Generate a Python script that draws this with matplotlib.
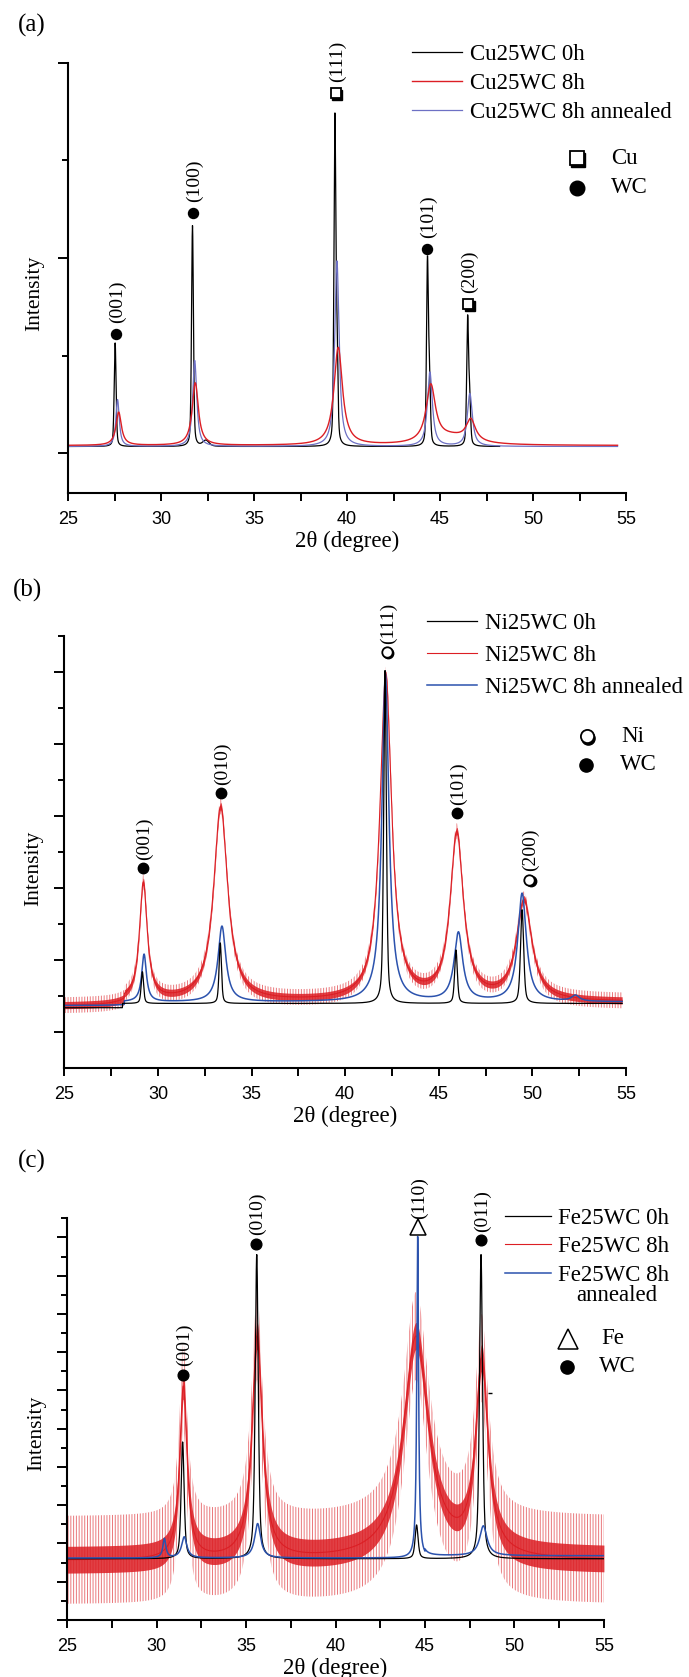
import numpy as np
import matplotlib
matplotlib.use("Agg")
import matplotlib.pyplot as plt
from matplotlib.transforms import offset_copy

plt.rcParams['font.family'] = ['Liberation Serif', 'DejaVu Serif']
plt.rcParams['hatch.linewidth'] = 0.7

W, H = 689, 1677
RED = '#dc1e24'
BLUE_A = '#6d70c4'
BLUE = '#2b52ad'

# ---------------- data ----------------
# panel (a) Cu25WC : peak position (deg), height above background, FWHM (deg)
a_black_pos = [27.52, 31.68, 32.40, 39.34, 39.45, 44.32, 44.43, 46.48, 46.59]
a_black_h = [0.53, 1.13, 0.03, 1.64, 0.45, 0.93, 0.30, 0.64, 0.22]
a_black_w = [0.12, 0.12, 0.40, 0.12, 0.12, 0.12, 0.12, 0.12, 0.12]
a_red_pos = [27.71, 31.83, 39.52, 44.50, 46.65, 45.60]
a_red_h = [0.17, 0.32, 0.50, 0.29, 0.11, 0.04]
a_red_w = [0.35, 0.40, 0.55, 0.60, 0.60, 2.50]
a_blue_pos = [27.65, 31.80, 39.45, 44.45, 46.60]
a_blue_h = [0.24, 0.44, 0.95, 0.38, 0.27]
a_blue_w = [0.22, 0.26, 0.28, 0.32, 0.32]
a_marks = [(27.56, 0.611, 'WC', '(001)'), (31.72, 1.229, 'WC', '(100)'),
           (39.39, 1.843, 'Cu', '(111)'), (44.30, 1.045, 'WC', '(101)'),
           (46.50, 0.763, 'Cu', '(200)')]

# panel (b) Ni25WC
b_black_pos = [29.17, 33.33, 42.13, 45.92, 49.45]
b_black_h = [0.44, 0.84, 4.62, 0.74, 1.30]
b_black_w = [0.15, 0.15, 0.17, 0.17, 0.20]
b_blue_pos = [29.26, 33.42, 42.15, 46.05, 49.45, 52.30]
b_blue_h = [0.66, 1.05, 4.55, 0.95, 1.50, 0.08]
b_blue_w = [0.30, 0.50, 0.45, 0.55, 0.55, 0.50]
b_red_pos = [29.22, 33.35, 42.17, 45.96, 49.55]
b_red_h = [1.63, 2.70, 4.50, 2.30, 1.38]
b_red_w = [0.50, 0.90, 0.75, 0.85, 1.00]
b_marks = [(29.22, 2.28, 'WC', '(001)'), (33.35, 3.32, 'WC', '(010)'),
           (42.22, 5.28, 'Ni', '(111)'), (45.96, 3.04, 'WC', '(101)'),
           (49.84, 2.12, 'Ni', '(200)')]

# panel (c) Fe25WC
c_black_pos = [31.46, 35.60, 44.53, 48.13]
c_black_h = [3.05, 7.95, 0.88, 7.95]
c_black_w = [0.20, 0.20, 0.20, 0.20]
c_blue_pos = [30.44, 31.55, 35.65, 44.59, 48.26]
c_blue_h = [0.50, 0.55, 0.90, 8.40, 0.78]
c_blue_w = [0.20, 0.35, 0.40, 0.12, 0.50]
c_red_pos = [31.50, 35.62, 44.50, 48.17]
c_red_h = [4.50, 5.80, 5.80, 5.00]
c_red_w = [0.50, 0.70, 1.70, 0.84]
c_marks = [(31.50, 6.41, 'WC', '(001)'), (35.56, 9.84, 'WC', '(010)'),
           (44.59, 10.27, 'Fe', '(110)'), (48.11, 9.92, 'WC', '(011)')]

# background levels: (edges, levels) step values
a_base = {'black': ([], [0.035]), 'red': ([], [0.04]), 'blue': ([], [0.035])}
b_base = {'black': ([28.1], [0.34, 0.40]), 'red': ([28.2], [0.36, 0.42]),
          'blue': ([28.2], [0.37, 0.42])}
c_base = {'black': ([], [1.60]), 'red': ([], [1.55]), 'blue': ([45.0], [1.62, 1.68])}

# noise envelope half widths (dense core, sparse spikes)
b_red_noise = (0.05, 0.11)
c_red_noise = (0.35, 1.15)


def background(x, edges, levels):
    return np.asarray(levels)[np.searchsorted(edges, x)]


def pattern(x, base, pos, height, fwhm, eta):
    y = background(x, *base).astype(float)
    for c, h, w in zip(pos, height, fwhm):
        lor = 1.0 / (1.0 + ((x - c) / (w / 2)) ** 2)
        gau = np.exp(-4 * np.log(2) * ((x - c) / w) ** 2)
        y = y + h * (eta * lor + (1 - eta) * gau)
    return y


fig = plt.figure(figsize=(W / 100, H / 100), dpi=100)


def px_ax(l, r, t, b):
    return fig.add_axes([l / W, 1 - b / H, (r - l) / W, (b - t) / H])


def style(ax, ylim, ymaj, ymin):
    ax.set_xlim(25, 55)
    ax.set_ylim(*ylim)
    for s in ['top', 'right']:
        ax.spines[s].set_visible(False)
    for s in ['left', 'bottom']:
        ax.spines[s].set_linewidth(1.5)
    ax.set_xticks(np.arange(25, 56, 5))
    ax.set_xticks(np.arange(27.5, 55, 5), minor=True)
    ax.set_yticks(ymaj)
    ax.set_yticks(ymin, minor=True)
    ax.tick_params(axis='x', which='both', direction='out', length=6, width=1.4,
                   labelsize=13, pad=7, labelfontfamily='Liberation Sans')
    ax.tick_params(axis='y', which='major', direction='out', length=7, width=1.4,
                   labelleft=False)
    ax.tick_params(axis='y', which='minor', direction='out', length=4.5, width=1.4)
    ax.set_xlabel('2θ (degree)', fontsize=16.5, labelpad=2)


def shadow_marker(ax, x, y, marker, ms, trans=None):
    trans = ax.transData if trans is None else trans
    sh = offset_copy(trans, fig=fig, x=1.6, y=-1.6, units='dots')
    ax.plot([x], [y], marker=marker, ms=ms, color='black', transform=sh,
            clip_on=False, zorder=9)
    ax.plot([x], [y], marker=marker, ms=ms, mfc='white', mec='black', mew=1.3,
            transform=trans, clip_on=False, zorder=10)


def phase_marker(ax, x, y, phase, ms, trans=None):
    trans = ax.transData if trans is None else trans
    if phase == 'WC':
        ax.plot([x], [y], 'o', ms=ms, color='black', transform=trans,
                clip_on=False, zorder=10)
    elif phase == 'Cu':
        shadow_marker(ax, x, y, 's', ms * 0.95, trans)
    elif phase == 'Ni':
        shadow_marker(ax, x, y, 'o', ms, trans)
    elif phase == 'Fe':
        ax.plot([x], [y], '^', ms=ms * 1.45, mfc='white', mec='black', mew=1.1,
                transform=trans, clip_on=False, zorder=10)


def annotate(ax, marks, ms, dy):
    for x, y, ph, lab in marks:
        phase_marker(ax, x, y, ph, ms)
        ax.annotate(lab, xy=(x, y), xytext=(1, dy), textcoords='offset points',
                    rotation=90, ha='center', va='bottom', fontsize=14,
                    annotation_clip=False)


def fig_text(x, y, s, **kw):
    fig.text(x / W, 1 - y / H, s, **kw)


def symbol_key(ax, rows, ms):
    ft = fig.transFigure
    for xs, ys, ph, xt, lab in rows:
        phase_marker(ax, xs / W, 1 - ys / H, ph, ms, ft)
        fig_text(xt, ys, lab, fontsize=16.5, ha='left', va='center')


def draw_noisy(ax, x, y, noise, color):
    core, spike = noise
    ax.fill_between(x, y - spike, y + spike, facecolor='none', edgecolor=color,
                    hatch='||||||', lw=0, alpha=0.6)
    ax.fill_between(x, y - core, y + core, color=color, alpha=0.85, lw=0)
    return ax.plot(x, y, color=color, lw=0.8)[0]


def key(ax, handles, labels, x0, y0, spacing, hl=2.2):
    ax.legend(handles, labels, loc='upper left', bbox_to_anchor=(x0 / W, 1 - y0 / H),
              bbox_transform=fig.transFigure, frameon=False, fontsize=16.5,
              handlelength=hl, handletextpad=0.33, labelspacing=spacing,
              borderpad=0, borderaxespad=0)


# ---------------- panel (a) ----------------
ax = px_ax(68.3, 626, 62.7, 493)
style(ax, (-0.203, 2.0), [0, 1, 2], [0.5, 1.5])
xa = np.arange(25.05, 54.55, 0.005)
xk = xa[xa < 48.2]
la, = ax.plot(xk, pattern(xk, a_base['black'], a_black_pos, a_black_h, a_black_w, 0.4),
              color='black', lw=0.9)
lb, = ax.plot(xa, pattern(xa, a_base['blue'], a_blue_pos, a_blue_h, a_blue_w, 0.9),
              color=BLUE_A, lw=0.9)
lr, = ax.plot(xa, pattern(xa, a_base['red'], a_red_pos, a_red_h, a_red_w, 1.0),
              color=RED, lw=1.0)
annotate(ax, a_marks, 7.2, 8)
key(ax, [la, lr, lb], ['Cu25WC 0h', 'Cu25WC 8h', 'Cu25WC 8h annealed'],
    411.7, 44, 0.34)
symbol_key(ax, [(576.7, 158.3, 'Cu', 611, 'Cu'), (576.7, 187.7, 'WC', 611, 'WC')], 10.5)
fig_text(32, 25, '(a)', fontsize=18, ha='center', va='center')
fig_text(34.7, 293, 'Intensity', fontsize=15.5, rotation=90, ha='center', va='center')

# ---------------- panel (b) ----------------
ax = px_ax(64.3, 626, 636, 1068.3)
style(ax, (-0.5, 5.5), np.arange(0, 6), np.arange(0.5, 5.6, 1))
xb = np.arange(25.0, 54.8, 0.005)
yr = pattern(xb, b_base['red'], b_red_pos, b_red_h, b_red_w, 1.0)
lr = draw_noisy(ax, xb, yr, b_red_noise, RED)
lb, = ax.plot(xb, pattern(xb, b_base['blue'], b_blue_pos, b_blue_h, b_blue_w, 1.0),
              color=BLUE, lw=1.1)
la, = ax.plot(xb, pattern(xb, b_base['black'], b_black_pos, b_black_h, b_black_w, 0.5),
              color='black', lw=0.9)
annotate(ax, b_marks, 7.5, 6)
key(ax, [la, lr, lb], ['Ni25WC 0h', 'Ni25WC 8h', 'Ni25WC 8h annealed'],
    426.7, 613, 0.47)
symbol_key(ax, [(586.7, 736, 'Ni', 621.7, 'Ni'), (586, 765, 'WC', 620, 'WC')], 9.5)
fig_text(27, 590, '(b)', fontsize=18, ha='center', va='center')
fig_text(34, 868, 'Intensity', fontsize=15.5, rotation=90, ha='center', va='center')

# ---------------- panel (c) ----------------
ax = px_ax(67, 604, 1218.3, 1620)
style(ax, (0, 10.5), np.arange(0, 11), np.arange(0.5, 10.6, 1))
xc = np.arange(25.0, 55.0, 0.005)
yr = pattern(xc, c_base['red'], c_red_pos, c_red_h, c_red_w, 1.0)
lr = draw_noisy(ax, xc, yr, c_red_noise, RED)
la, = ax.plot(xc, pattern(xc, c_base['black'], c_black_pos, c_black_h, c_black_w, 0.6),
              color='black', lw=0.9)
lb, = ax.plot(xc, pattern(xc, c_base['blue'], c_blue_pos, c_blue_h, c_blue_w, 1.0),
              color=BLUE, lw=1.1)
annotate(ax, c_marks, 7.7, 6)
ax.plot([48.63], [5.94], marker='_', ms=3, color='black', mew=1)
key(ax, [la, lr, lb], ['Fe25WC 0h', 'Fe25WC 8h', 'Fe25WC 8h'], 505, 1208, 0.32, hl=2.0)
fig_text(576.7, 1295.7, 'annealed', fontsize=16.5, ha='left', va='center')
symbol_key(ax, [(568.3, 1339, 'Fe', 601.7, 'Fe'), (566.7, 1366.7, 'WC', 599.3, 'WC')], 9.5)
fig_text(32, 1161, '(c)', fontsize=18, ha='center', va='center')
fig_text(36.7, 1433, 'Intensity', fontsize=15.5, rotation=90, ha='center', va='center')

fig.savefig('out.png', dpi=100)
